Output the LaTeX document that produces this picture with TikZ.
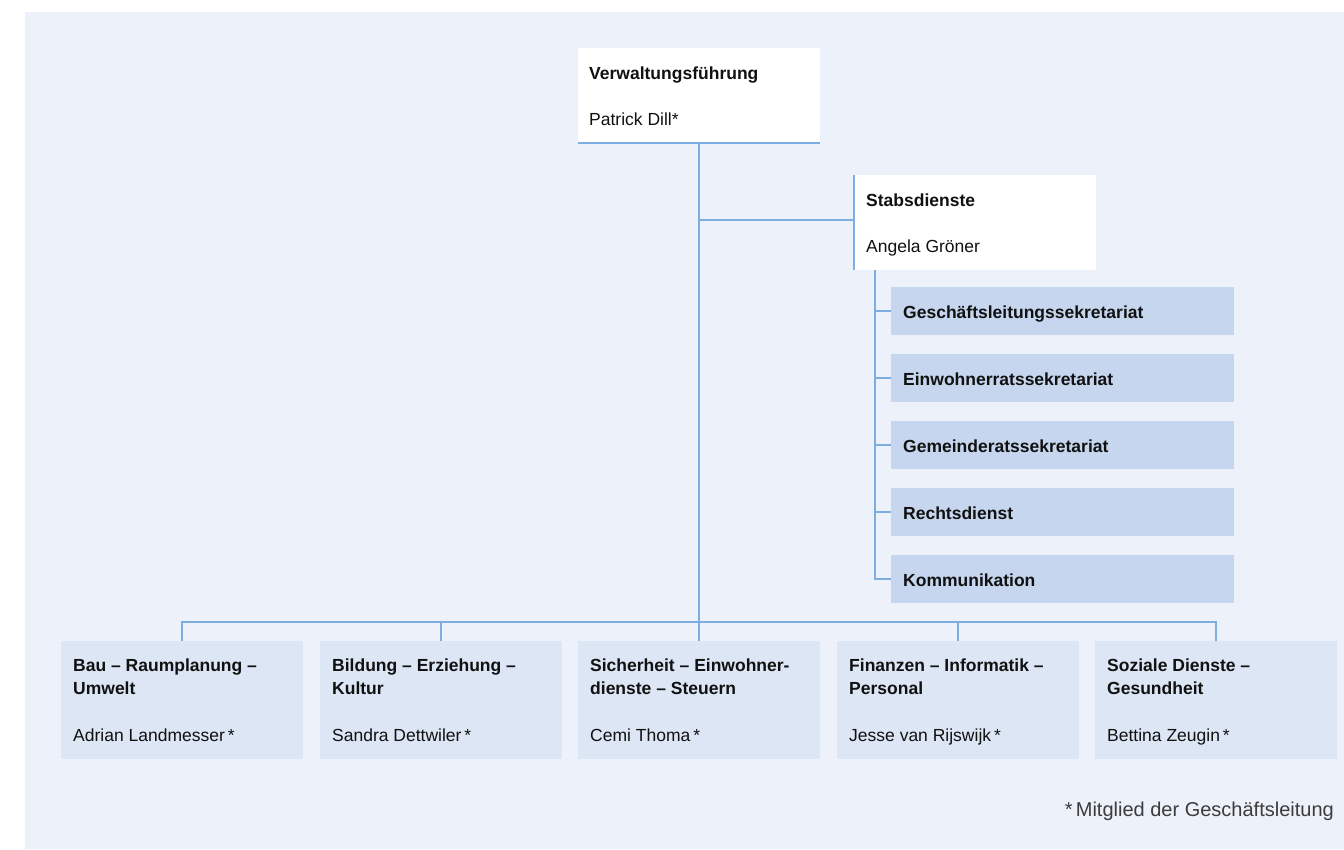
\documentclass[tikz,border=0pt]{standalone}
\usepackage{fontspec}
\setmainfont{Liberation Sans}
\definecolor{bgc}{HTML}{ECF1FA}
\definecolor{subc}{HTML}{C5D6EE}
\definecolor{depc}{HTML}{DCE6F5}
\definecolor{linec}{HTML}{7DAEDF}
\definecolor{txtc}{HTML}{111111}
\definecolor{notec}{HTML}{3C3C3C}
\tikzset{
  boxbase/.style={anchor=north west, inner sep=0pt, outer sep=0pt, rectangle},
  whitebox/.style={boxbase, fill=white, minimum width=242pt, minimum height=95pt},
  subbox/.style={boxbase, fill=subc, minimum width=343pt, minimum height=48pt},
  depbox/.style={boxbase, fill=depc, minimum width=242pt, minimum height=118pt},
  ttl/.style={anchor=base west, inner sep=0pt, text=txtc, font=\fontsize{17.5}{21}\selectfont\bfseries},
  nme/.style={anchor=base west, inner sep=0pt, text=txtc, font=\fontsize{17.5}{21}\selectfont},
  conn/.style={draw=linec, line width=1.5pt}
}
\begin{document}
\begin{tikzpicture}[x=1pt,y=-1pt]
\useasboundingbox (0,0) rectangle (1344,849);
\fill[bgc] (25,12) rectangle (1344,849);

% top box
\node[whitebox] (vf) at (578,48) {};
\node[ttl] (vft) at (589,79) {Verwaltungsführung};
\node[nme] (vfn) at (589,125) {Patrick Dill*};

% Stabsdienste
\node[whitebox] (sd) at (854,175) {};
\node[ttl] (sdt) at (866,206) {Stabsdienste};
\node[nme] (sdn) at (866,252) {Angela Gröner};

% sub boxes
\node[subbox] (s1) at (891,287) {};
\node[subbox] (s2) at (891,354) {};
\node[subbox] (s3) at (891,421) {};
\node[subbox] (s4) at (891,488) {};
\node[subbox] (s5) at (891,555) {};
\node[ttl] (s1t) at (903,318) {Geschäftsleitungssekretariat};
\node[ttl] (s2t) at (903,385) {Einwohnerratssekretariat};
\node[ttl] (s3t) at (903,452) {Gemeinderatssekretariat};
\node[ttl] (s4t) at (903,519) {Rechtsdienst};
\node[ttl] (s5t) at (903,586) {Kommunikation};

% departments
\node[depbox] (d1) at (61,641) {};
\node[depbox] (d2) at (320,641) {};
\node[depbox] (d3) at (578,641) {};
\node[depbox] (d4) at (837,641) {};
\node[depbox] (d5) at (1095,641) {};

\node[ttl] (d1a) at (73,671) {Bau – Raumplanung –};
\node[ttl] (d1b) at (73,694) {Umwelt};
\node[nme] (d1n) at (73,741) {Adrian Landmesser\,*};

\node[ttl] (d2a) at (332,671) {Bildung – Erziehung –};
\node[ttl] (d2b) at (332,694) {Kultur};
\node[nme] (d2n) at (332,741) {Sandra Dettwiler\,*};

\node[ttl] (d3a) at (590,671) {Sicherheit – Einwohner-};
\node[ttl] (d3b) at (590,694) {dienste – Steuern};
\node[nme] (d3n) at (590,741) {Cemi Thoma\,*};

\node[ttl] (d4a) at (849,671) {Finanzen – Informatik –};
\node[ttl] (d4b) at (849,694) {Personal};
\node[nme] (d4n) at (849,741) {Jesse van Rijswijk\,*};

\node[ttl] (d5a) at (1107,671) {Soziale Dienste –};
\node[ttl] (d5b) at (1107,694) {Gesundheit};
\node[nme] (d5n) at (1107,741) {Bettina Zeugin\,*};

% footnote
\node[anchor=base east, inner sep=0pt, text=notec, font=\fontsize{20}{24}\selectfont] (fn) at (1334,816) {*\,Mitglied der Geschäftsleitung};

% connectors
\draw[conn] (vf.south west) -- (vf.south east);
\draw[conn] (sd.north west) -- (sd.south west);
\coordinate (bus) at (699,622);
\coordinate (br) at (699,220);
\draw[conn] (vf.south) -- (vf.south |- bus);
\draw[conn] (vf.south |- br) -- (br -| sd.west);
\coordinate (sx) at (875,270);
\draw[conn] (sx) |- (s5.west);
\foreach \s in {s1,s2,s3,s4}{\draw[conn] (sx |- \s.west) -- (\s.west);}
\draw[conn] (d1.north) |- (bus) -| (d5.north);
\foreach \d in {d2,d3,d4}{\draw[conn] (\d.north |- bus) -- (\d.north);}
\end{tikzpicture}
\end{document}
